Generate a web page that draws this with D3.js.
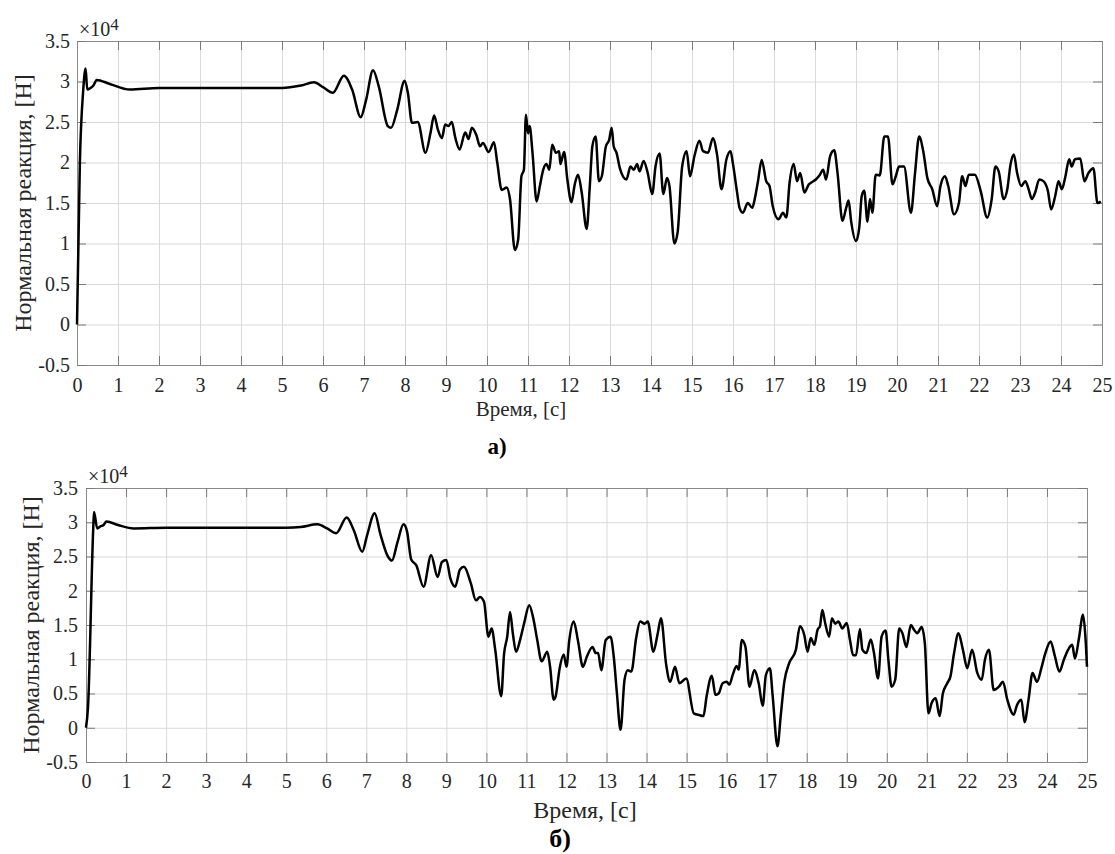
<!DOCTYPE html>
<html>
<head>
<meta charset="utf-8">
<script src="https://cdn.jsdelivr.net/npm/d3@7/dist/d3.min.js"></script>
<style>
  body { margin: 0; background: #fff; }
  svg { display: block; }
</style>
</head>
<body>
<svg id="chart" width="1115" height="854"></svg>
<script>
"use strict";

// axis ticks, shared by both panels
var timeTicks = d3.range(0, 26, 1);
var forceTicks = [-0.5, 0, 0.5, 1, 1.5, 2, 2.5, 3, 3.5];

// panel a) normal reaction, x10^4 N : [time s, value]
var reactionA = [
  [0,0],[0.07,2.0],[0.15,2.88],[0.21,3.16],[0.25,2.9],[0.33,2.92],[0.4,2.95],[0.48,3.02],[0.8,2.97],
  [1.29,2.9],[2.0,2.92],[3.0,2.92],[4.0,2.92],[5.0,2.92],[5.46,2.95],[5.78,2.99],[6.0,2.93],
  [6.24,2.86],[6.51,3.07],[6.71,2.9],[6.92,2.56],[7.05,2.77],[7.22,3.14],[7.36,2.94],[7.58,2.45],
  [7.66,2.43],[7.81,2.65],[7.99,3.01],[8.07,2.86],[8.17,2.49],[8.31,2.5],[8.5,2.12],[8.62,2.36],
  [8.71,2.58],[8.8,2.41],[8.9,2.3],[8.98,2.47],[9.06,2.45],[9.14,2.5],[9.23,2.3],[9.33,2.16],
  [9.47,2.37],[9.55,2.29],[9.63,2.43],[9.74,2.34],[9.83,2.2],[9.9,2.24],[10.04,2.13],[10.17,2.25],
  [10.25,2.0],[10.36,1.66],[10.48,1.69],[10.56,1.55],[10.68,0.92],[10.76,1.05],[10.84,1.83],
  [10.9,1.91],[10.95,2.59],[11.0,2.36],[11.04,2.45],[11.11,2.12],[11.21,1.52],[11.29,1.71],
  [11.37,1.91],[11.45,1.98],[11.52,1.91],[11.59,2.22],[11.68,2.12],[11.76,2.14],[11.79,1.98],
  [11.88,2.13],[11.96,1.79],[12.06,1.51],[12.14,1.73],[12.22,1.85],[12.31,1.63],[12.43,1.18],
  [12.51,1.73],[12.57,2.2],[12.65,2.32],[12.73,1.77],[12.8,1.83],[12.9,2.2],[12.98,2.28],
  [13.04,2.43],[13.09,2.2],[13.16,2.12],[13.24,1.93],[13.4,1.79],[13.5,1.95],[13.58,1.91],
  [13.66,1.98],[13.72,1.89],[13.82,2.02],[13.92,1.87],[14.03,1.61],[14.11,1.95],[14.21,2.11],
  [14.3,1.61],[14.39,1.81],[14.45,1.71],[14.57,1.0],[14.65,1.14],[14.76,1.95],[14.87,2.14],
  [14.95,1.83],[15.06,2.08],[15.18,2.27],[15.27,2.14],[15.39,2.12],[15.51,2.3],[15.61,2.1],
  [15.72,1.67],[15.84,2.04],[15.94,2.14],[16.0,1.98],[16.1,1.63],[16.16,1.44],[16.24,1.38],
  [16.36,1.5],[16.47,1.44],[16.53,1.55],[16.61,1.77],[16.7,2.03],[16.81,1.77],[16.89,1.71],
  [16.97,1.46],[17.11,1.3],[17.22,1.38],[17.3,1.32],[17.38,1.75],[17.48,1.98],[17.56,1.77],
  [17.64,1.87],[17.74,1.63],[17.85,1.73],[17.9,1.75],[18.02,1.79],[18.12,1.85],[18.2,1.91],
  [18.27,1.79],[18.37,2.08],[18.47,2.15],[18.55,1.87],[18.67,1.28],[18.76,1.44],[18.82,1.53],
  [18.88,1.28],[19.0,1.03],[19.08,1.2],[19.14,1.59],[19.2,1.65],[19.28,1.27],[19.34,1.55],
  [19.4,1.38],[19.48,1.85],[19.58,1.84],[19.69,2.32],[19.78,2.32],[19.89,1.73],[19.97,1.83],
  [20.05,1.95],[20.17,1.95],[20.34,1.38],[20.44,1.87],[20.54,2.32],[20.64,2.14],[20.74,1.81],
  [20.86,1.67],[20.98,1.46],[21.06,1.71],[21.17,1.83],[21.25,1.71],[21.39,1.36],[21.51,1.5],
  [21.59,1.83],[21.67,1.71],[21.75,1.85],[21.9,1.85],[22.04,1.65],[22.2,1.32],[22.31,1.55],
  [22.4,1.95],[22.48,1.89],[22.6,1.55],[22.69,1.67],[22.77,1.98],[22.85,2.1],[22.93,1.87],
  [23.03,1.71],[23.13,1.77],[23.21,1.67],[23.29,1.55],[23.37,1.63],[23.47,1.79],[23.57,1.77],
  [23.68,1.65],[23.76,1.42],[23.86,1.59],[23.94,1.77],[24.02,1.67],[24.1,1.81],[24.2,2.04],
  [24.26,1.95],[24.34,2.04],[24.47,2.05],[24.57,1.77],[24.67,1.87],[24.79,1.93],[24.89,1.5],
  [24.97,1.52]
];

// panel б)
var reactionB = [
  [0,0],[0.05,0.3],[0.18,2.9],[0.2,3.15],[0.28,2.91],[0.36,2.94],[0.44,2.96],[0.51,3.01],[0.8,2.96],
  [1.19,2.91],[2.0,2.92],[3.0,2.92],[4.0,2.92],[5.0,2.92],[5.36,2.93],[5.78,2.97],[6.02,2.91],
  [6.25,2.84],[6.51,3.07],[6.69,2.88],[6.9,2.57],[7.02,2.81],[7.21,3.13],[7.35,2.83],[7.54,2.5],
  [7.64,2.44],[7.78,2.71],[7.93,2.97],[8.02,2.86],[8.12,2.46],[8.25,2.37],[8.43,2.06],[8.62,2.52],
  [8.78,2.2],[8.89,2.42],[9.0,2.45],[9.1,2.18],[9.22,2.06],[9.34,2.31],[9.44,2.35],[9.61,2.11],
  [9.74,1.86],[9.84,1.91],[9.94,1.84],[10.05,1.33],[10.13,1.45],[10.22,1.14],[10.37,0.46],
  [10.44,1.07],[10.52,1.33],[10.59,1.69],[10.66,1.38],[10.74,1.11],[10.84,1.28],[10.94,1.52],
  [11.07,1.79],[11.17,1.6],[11.27,1.28],[11.38,0.97],[11.52,1.11],[11.59,0.89],[11.68,0.41],
  [11.73,0.46],[11.83,0.87],[11.93,1.07],[12.0,0.89],[12.07,1.28],[12.18,1.55],[12.29,1.26],
  [12.41,0.89],[12.51,1.04],[12.65,1.18],[12.73,1.09],[12.79,1.09],[12.87,0.84],[12.98,1.28],
  [13.1,1.33],[13.18,1.04],[13.26,0.5],[13.35,-0.03],[13.45,0.7],[13.53,0.84],[13.62,0.82],
  [13.74,1.31],[13.84,1.55],[13.95,1.52],[14.03,1.55],[14.17,1.11],[14.28,1.38],[14.36,1.6],
  [14.49,0.92],[14.59,0.67],[14.71,0.89],[14.82,0.65],[14.99,0.72],[15.18,0.21],[15.29,0.19],
  [15.42,0.17],[15.5,0.46],[15.63,0.76],[15.72,0.48],[15.8,0.5],[15.9,0.65],[16.0,0.67],
  [16.07,0.63],[16.15,0.77],[16.25,0.9],[16.3,0.85],[16.38,1.28],[16.47,1.18],[16.57,0.6],
  [16.69,0.84],[16.8,0.65],[16.9,0.32],[16.98,0.77],[17.08,0.87],[17.15,0.46],[17.27,-0.27],
  [17.35,0.17],[17.44,0.67],[17.56,0.94],[17.73,1.14],[17.83,1.48],[17.94,1.35],[18.02,1.11],
  [18.1,1.31],[18.19,1.21],[18.27,1.43],[18.33,1.48],[18.39,1.72],[18.46,1.53],[18.56,1.33],
  [18.63,1.6],[18.71,1.52],[18.79,1.55],[18.89,1.45],[19.0,1.53],[19.08,1.28],[19.16,1.06],
  [19.23,1.06],[19.33,1.44],[19.39,1.14],[19.49,1.09],[19.6,1.29],[19.68,1.09],[19.78,0.72],
  [19.87,1.33],[19.97,1.42],[20.04,0.99],[20.12,0.6],[20.21,0.7],[20.31,1.45],[20.39,1.38],
  [20.49,1.18],[20.6,1.5],[20.68,1.43],[20.76,1.38],[20.87,1.47],[20.95,1.23],[21.04,0.21],
  [21.12,0.36],[21.22,0.43],[21.32,0.17],[21.4,0.5],[21.51,0.65],[21.59,0.75],[21.68,1.09],
  [21.79,1.38],[21.9,1.14],[22.01,0.87],[22.13,1.14],[22.26,0.8],[22.37,0.7],[22.45,0.99],
  [22.55,1.14],[22.67,0.55],[22.8,0.6],[22.9,0.67],[23.01,0.41],[23.17,0.19],[23.25,0.33],
  [23.36,0.41],[23.44,0.08],[23.54,0.41],[23.64,0.8],[23.75,0.67],[23.86,0.87],[23.96,1.09],
  [24.09,1.26],[24.2,1.04],[24.31,0.82],[24.42,0.99],[24.53,1.14],[24.63,1.21],[24.7,1.01],
  [24.8,1.31],[24.9,1.65],[24.96,1.33],[25.0,0.89]
];

var xTitle = "Время, [с]";
var yTitle = "Нормальная реакция, [Н]";
var SERIF = "Liberation Serif";

var svg = d3.select("#chart");

function drawPanel(box, data, label) {
  var x = d3.scaleLinear().domain([0, 25]).range([box.left, box.right]);
  var y = d3.scaleLinear().domain([-0.5, 3.5]).range([box.bottom, box.top]);
  var w = box.right - box.left, h = box.bottom - box.top;
  var g = svg.append("g");

  // grid
  g.append("g")
    .attr("transform", "translate(0," + box.bottom + ")")
    .call(d3.axisBottom(x).tickValues(timeTicks).tickSize(-h).tickFormat(""))
    .call(function(s) { s.select(".domain").remove(); s.selectAll("line").attr("stroke", "#d9d9d9"); });
  g.append("g")
    .attr("transform", "translate(" + box.left + ",0)")
    .call(d3.axisLeft(y).tickValues(forceTicks).tickSize(-w).tickFormat(""))
    .call(function(s) { s.select(".domain").remove(); s.selectAll("line").attr("stroke", "#d9d9d9"); });

  // inward ticks, matlab style
  var tk = 9;
  var axes = [
    [d3.axisBottom(x).tickValues(timeTicks).tickSizeInner(-tk).tickSizeOuter(0).tickPadding(box.xPad)
      .tickFormat(d3.format("d")), "translate(0," + box.bottom + ")"],
    [d3.axisTop(x).tickValues(timeTicks).tickSizeInner(-tk).tickSizeOuter(0).tickFormat(""), "translate(0," + box.top + ")"],
    [d3.axisLeft(y).tickValues(forceTicks).tickSizeInner(-tk).tickSizeOuter(0).tickPadding(box.yPad)
      .tickFormat(function(d) { return d; }), "translate(" + box.left + ",0)"],
    [d3.axisRight(y).tickValues(forceTicks).tickSizeInner(-tk).tickSizeOuter(0).tickFormat(""), "translate(" + box.right + ",0)"]
  ];
  axes.forEach(function(a) {
    g.append("g").attr("transform", a[1]).call(a[0])
      .attr("font-family", SERIF).attr("font-size", 20)
      .call(function(s) {
        s.select(".domain").attr("stroke", "#8a8a8a");
        s.selectAll("line").attr("stroke", "#7a7a7a");
        s.selectAll("text").attr("fill", "#262626");
      });
  });

  // curve
  var line = d3.line()
    .x(function(d) { return x(d[0]); })
    .y(function(d) { return y(d[1]); })
    .curve(d3.curveMonotoneX);
  g.append("path").datum(data)
    .attr("fill", "none").attr("stroke", "#000").attr("stroke-width", 2.5)
    .attr("stroke-linejoin", "round").attr("d", line);

  // exponent
  var ex = g.append("text").attr("x", box.left + 2).attr("y", box.top - 5)
    .attr("font-family", SERIF).attr("font-size", 20).attr("fill", "#262626");
  ex.append("tspan").text("\u00d710");
  ex.append("tspan").attr("dy", -6).attr("font-size", 17).text("4");

  g.append("text").attr("x", box.xTitleX).attr("y", box.xTitleY)
    .attr("text-anchor", "middle").attr("font-family", SERIF).attr("font-size", box.xTitleSize)
    .attr("fill", "#262626").text(xTitle);
  g.append("text")
    .attr("transform", "translate(" + box.yTitleX + "," + ((box.top + box.bottom) / 2) + ") rotate(-90)")
    .attr("text-anchor", "middle").attr("font-family", SERIF).attr("font-size", 24)
    .attr("fill", "#262626").text(yTitle);
  g.append("text").attr("x", box.labelX).attr("y", box.labelY)
    .attr("text-anchor", "middle").attr("font-family", SERIF).attr("font-weight", "bold")
    .attr("font-size", box.labelSize).attr("fill", "#000").text(label);
}

drawPanel({left: 77, right: 1102, top: 41, bottom: 365, xPad: 13, yPad: 7,
  xTitleX: 521, xTitleY: 416, xTitleSize: 21, yTitleX: 31,
  labelX: 497, labelY: 454, labelSize: 23}, reactionA, "а)");
drawPanel({left: 86, right: 1087, top: 488, bottom: 762, xPad: 12, yPad: 8,
  xTitleX: 585, xTitleY: 818, xTitleSize: 24, yTitleX: 39,
  labelX: 560, labelY: 847, labelSize: 26}, reactionB, "б)");
</script>
</body>
</html>
